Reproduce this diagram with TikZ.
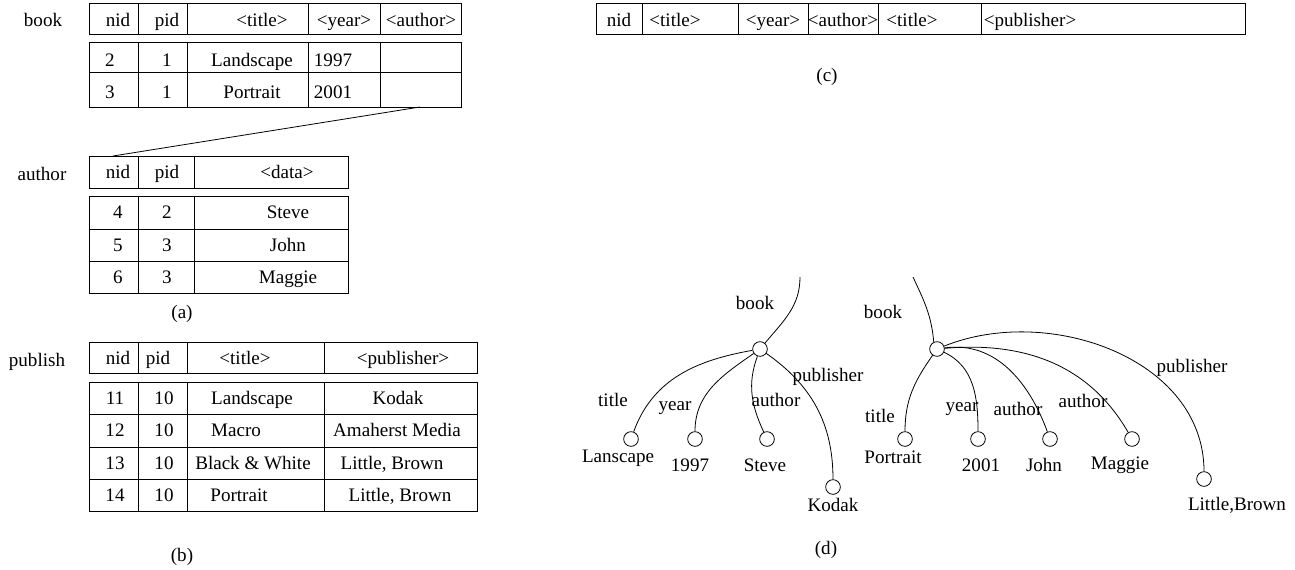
\documentclass[tikz,border=0pt]{standalone}
\usepackage{fontspec}
\setmainfont{Liberation Serif}
\begin{document}
\begin{tikzpicture}[
  x=0.75pt, y=-0.75pt, line width=0.6pt,
  font=\fontsize{14.3}{17}\selectfont,
  cell/.style={inner sep=0pt, text height=1.6ex, text depth=0.3ex, yshift=-1.8pt},
  leaf/.style={circle, draw, minimum size=11pt, inner sep=0pt},
  lbl/.style={inner sep=1pt},
]
\useasboundingbox (0,0) rectangle (1295,569);

% (a) book table
\node[cell] (bookname) at (43,20) {book};
\draw (89,3) rectangle (461,34);
\draw (89,42) rectangle (461,107) (89,72) -- (461,72);
\foreach \x in {138,187,308,380} \draw (\x,3) -- (\x,34) (\x,42) -- (\x,107);
\foreach \x/\t in {118/nid,167/pid,262/{<title>},344/{<year>},421/{<author>}}
  \node[cell] at (\x,20) {\t};
\foreach \x/\t in {110/2,167/1,252/Landscape,333/1997}
  \node[cell] at (\x,60) {\t};
\foreach \x/\t in {110/3,167/1,252/Portrait,333/2001}
  \node[cell] at (\x,92) {\t};

% (a) author table
\node[cell] (authname) at (42,174) {author};
\draw (89,156) rectangle (348,188);
\draw (89,196) rectangle (348,293) (89,229) -- (348,229) (89,261) -- (348,261);
\foreach \x in {138,194} \draw (\x,156) -- (\x,188) (\x,196) -- (\x,293);
\foreach \x/\t in {118/nid,167/pid,287/{<data>}}
  \node[cell] at (\x,172) {\t};
\foreach \y/\a/\b/\c in {212/4/2/Steve,245/5/3/John,277/6/3/Maggie}{
  \node[cell] at (118,\y) {\a};
  \node[cell] at (167,\y) {\b};
  \node[cell] at (288,\y) {\c};
}
\coordinate (bookauth) at (420,107);
\coordinate (authnid) at (113,156);
\draw (bookauth) -- (authnid);
\node[cell] (capa) at (182,312) {(a)};

% (b) publish table
\node[cell] (pubname) at (37,360) {publish};
\draw (89,342) rectangle (477,373);
\draw (89,382) rectangle (477,511);
\foreach \y in {414,447,479} \draw (89,\y) -- (477,\y);
\foreach \x in {138,187,324} \draw (\x,342) -- (\x,373) (\x,382) -- (\x,511);
\foreach \x/\t in {118/nid,158/pid,245/{<title>},403/{<publisher>}}
  \node[cell] at (\x,358) {\t};
\foreach \y/\a/\ta/\tx/\pa/\px in {398/11/252/Landscape/398/Kodak,
    430/12/236/Macro/397/{Amaherst Media},
    463/13/253/{Black \& White}/392/{Little, Brown},
    495/14/239/Portrait/400/{Little, Brown}}{
  \node[cell] at (115,\y) {\a};
  \node[cell] at (164,\y) {10};
  \node[cell] at (\ta,\y) {\tx};
  \node[cell] at (\pa,\y) {\px};
}
\node[cell] (capb) at (182,555) {(b)};

% (c) joined table
\draw (596,3) rectangle (1245,34);
\foreach \x in {642,738,808,878,981} \draw (\x,3) -- (\x,34);
\foreach \x/\t in {619/nid,675/{<title>},773/{<year>},843/{<author>},912/{<title>},1030/{<publisher>}}
  \node[cell] at (\x,20) {\t};
\node[cell] (capc) at (827,75) {(c)};

% (d) left tree
\node[leaf] (lroot) at (760,349) {};
\coordinate (ltop) at (800,277);
\node[leaf] (ltitle) at (631,439) {};
\node[leaf] (lyear) at (695,439) {};
\node[leaf] (lauthor) at (767,439) {};
\node[leaf] (lpub) at (833,487) {};
\draw (ltop) to[out=-90,in=50] (lroot);
\draw (lroot) to[out=190,in=70] (ltitle);
\draw (lroot) to[out=215,in=90] (lyear);
\draw (lroot) to[out=250,in=115] (lauthor);
\draw (lroot) to[out=-35,in=90] (lpub);
\node[lbl] at (755,303) {book};
\node[lbl] at (613,400) {title};
\node[lbl] at (675,408) {year};
\node[lbl] at (776,400) {author};
\node[lbl] at (828,377) {publisher};
\node[lbl] (lanscape) at (618,458) {Lanscape};
\node[lbl] (l1997) at (690,465) {1997};
\node[lbl] (lsteve) at (765,465) {Steve};
\node[lbl] (lkodak) at (833,505) {Kodak};

% (d) right tree
\node[leaf] (rroot) at (937,349) {};
\coordinate (rtop) at (913,277);
\node[leaf] (rtitle) at (905,439) {};
\node[leaf] (ryear) at (978,439) {};
\node[leaf] (rjohn) at (1050,439) {};
\node[leaf] (rmaggie) at (1132,439) {};
\node[leaf] (rpub) at (1204,479) {};
\draw (rtop) to[out=-65,in=95] (rroot.115);
\draw (rroot) to[out=235,in=90] (rtitle);
\draw (rroot) to[out=-25,in=90] (ryear);
\draw (rroot) to[out=8,in=110] (rjohn);
\draw (rroot) to[out=5,in=120] (rmaggie);
\draw (rroot) to[out=22,in=90] (rpub);
\node[lbl] at (883,312) {book};
\node[lbl] at (880,416) {title};
\node[lbl] at (962,409) {year};
\node[lbl] at (1018,409) {author};
\node[lbl] at (1083,401) {author};
\node[lbl] at (1192,368) {publisher};
\node[lbl] (rportrait) at (893,457) {Portrait};
\node[lbl] (r2001) at (981,465) {2001};
\node[lbl] (rjohnl) at (1044,465) {John};
\node[lbl] (rmaggiel) at (1120,465) {Maggie};
\node[lbl] (rlittle) at (1237,505) {Little,Brown};
\node[cell] (capd) at (826,548) {(d)};
\end{tikzpicture}
\end{document}
